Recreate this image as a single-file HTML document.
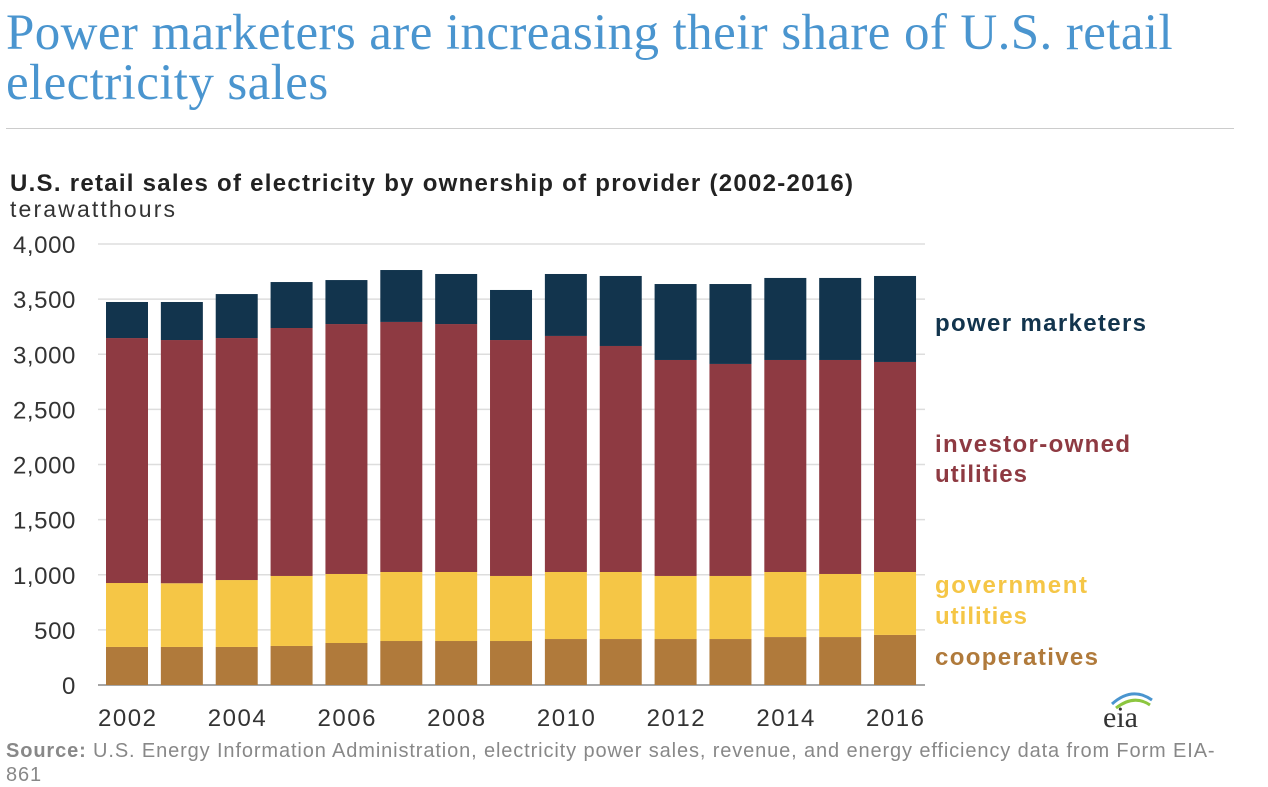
<!DOCTYPE html>
<html><head><meta charset="utf-8"><style>
body{margin:0;background:#fff;width:1268px;height:778px;overflow:hidden;position:relative;font-family:"Liberation Sans",sans-serif}
#title{position:absolute;left:6px;top:8px;font-family:"Liberation Serif",serif;font-size:51px;line-height:50px;color:#4a95cf;width:1200px;letter-spacing:0.4px}
#rule{position:absolute;left:6px;top:128px;width:1228px;height:1px;background:#ccc}
#source{position:absolute;left:6px;top:739px;font-size:20px;color:#888;line-height:24px;width:1232px;letter-spacing:0.88px}
</style></head><body>
<div id="title">Power marketers are increasing their share of U.S. retail electricity sales</div>
<div id="rule"></div>
<svg id="chart" width="1268" height="778" style="position:absolute;left:0;top:0">
<text x="10" y="191" font-size="24" font-weight="bold" fill="#222" textLength="843" lengthAdjust="spacing">U.S. retail sales of electricity by ownership of provider (2002-2016)</text>
<text x="10" y="217" font-size="23" fill="#333" textLength="165" lengthAdjust="spacing">terawatthours</text>
<g id="grid"></g><g id="bars"></g><g id="labels"></g>
<text x="935" y="331" font-size="24" font-weight="bold" fill="#12344d" textLength="211" lengthAdjust="spacing">power marketers</text>
<text font-size="24" font-weight="bold" fill="#8e3a42"><tspan x="935" y="452" textLength="195" lengthAdjust="spacing">investor-owned</tspan><tspan x="935" y="482" textLength="92" lengthAdjust="spacing">utilities</tspan></text>
<text font-size="24" font-weight="bold" fill="#f5c646"><tspan x="935" y="593" textLength="152" lengthAdjust="spacing">government</tspan><tspan x="935" y="624" textLength="92" lengthAdjust="spacing">utilities</tspan></text>
<text x="935" y="665" font-size="24" font-weight="bold" fill="#b07a3b" textLength="163" lengthAdjust="spacing">cooperatives</text>
<g>
<text x="1103" y="727" font-family="Liberation Serif,serif" font-size="30" fill="#333">eia</text>
<path d="M1112 704 Q1132 686 1152 700" stroke="#4a95cf" stroke-width="3" fill="none"/>
<path d="M1116 708 Q1134 694 1150 705" stroke="#8cc63f" stroke-width="3" fill="none"/>
</g>
</svg>
<div id="source"><b>Source:</b> U.S. Energy Information Administration, electricity power sales, revenue, and energy efficiency data from Form EIA-861</div>
<script>
const years=[2002,2003,2004,2005,2006,2007,2008,2009,2010,2011,2012,2013,2014,2015,2016];
const coop=[345,345,345,354,381,399,399,399,417,417,417,417,435,435,454];
const gov=[580,578,607,635,626,626,626,590,608,608,572,572,590,572,571];
const iou=[2222,2206,2195,2249,2267,2268,2249,2140,2141,2050,1959,1923,1923,1941,1905];
const pm=[327,345,399,417,399,471,454,454,562,635,689,725,744,744,780];
const yTicks=[0,500,1000,1500,2000,2500,3000,3500,4000];
const tickLabels=["0","500","1,000","1,500","2,000","2,500","3,000","3,500","4,000"];
const xLabelYears=[2002,2004,2006,2008,2010,2012,2014,2016];
const NS="http://www.w3.org/2000/svg";
const y=v=>685-v*0.11025;
const x=i=>127+i*54.86;
const bw=42;
function mk(t,a,p){const e=document.createElementNS(NS,t);for(const k in a)e.setAttribute(k,a[k]);p.appendChild(e);return e;}
const grid=document.getElementById('grid'),bars=document.getElementById('bars'),labels=document.getElementById('labels');
yTicks.forEach((v,i)=>{
 const l=mk('line',{x1:98,x2:925,y1:y(v),y2:y(v),stroke:i==0?'#888':'#ddd','stroke-width':1.5},grid);
 
 
 const t=mk('text',{x:76,y:y(v)+9,'font-size':24,fill:'#333','text-anchor':'end','letter-spacing':'0.6'},labels);
 t.textContent=tickLabels[i];
 
 
});
const series=[[coop,'#b07a3b','cooperatives'],[gov,'#f5c646','government'],[iou,'#8e3a42','investor-owned'],[pm,'#12344d','power-marketers']];
years.forEach((yr,i)=>{
 let base=0;
 series.forEach(([arr,col,nm])=>{
  const v=arr[i];
  const r=mk('rect',{x:x(i)-bw/2,y:y(base+v),width:bw,height:v*0.11025,fill:col},bars);
  
  
  base+=v;
 });
});
xLabelYears.forEach(yr=>{
 const i=years.indexOf(yr);
 const t=mk('text',{x:x(i)-29,y:726,'font-size':24,fill:'#333',textLength:58,lengthAdjust:'spacing'},labels);
 t.textContent=yr;
 
 
});
</script>
</body></html>
